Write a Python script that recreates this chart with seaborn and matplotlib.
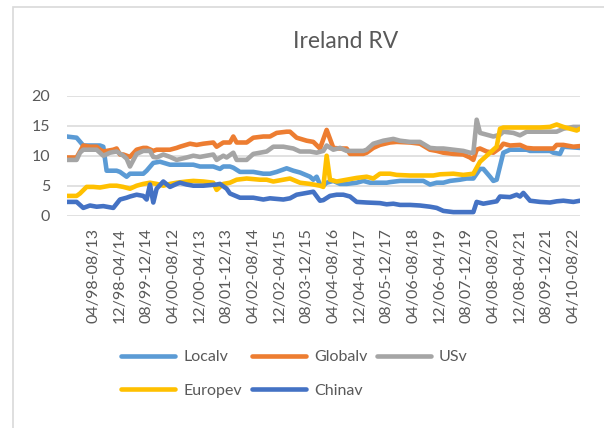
import matplotlib
matplotlib.use("Agg")
import matplotlib.pyplot as plt
import matplotlib.patches as patches
import pandas as pd
import seaborn as sns

# Month index 0 = first window, tick labels every 8 months starting at index 8
tick_months = list(range(8, 153, 8))
tick_labels = ['04/98-08/13', '12/98-04/14', '08/99-12/14', '04/00-08/12',
               '12/00-04/13', '08/01-12/13', '04/02-08/14', '12/02-04/15',
               '08/03-12/15', '04/04-08/16', '12/04-04/17', '08/05-12/17',
               '04/06-08/18', '12/06-04/19', '08/07-12/19', '04/08-08/20',
               '12/08-04/21', '08/09-12/21', '04/10-08/22']

local_m = [0, 3, 5, 8, 10, 11, 12, 15, 16, 18, 19, 23, 24, 26, 28, 31, 38, 40, 44, 46,
           47, 49, 50, 52, 56, 59, 61, 63, 66, 68, 70, 73, 74, 75, 76, 77, 78, 80, 82, 84,
           87, 89, 91, 96, 97, 100, 107, 109, 111, 113, 115, 118, 120, 122, 124, 125, 127,
           128, 129, 131, 133, 138, 139, 145, 146, 148, 149, 154]
local_v = [13.2, 13.0, 11.7, 11.7, 11.7, 11.5, 7.5, 7.5, 7.3, 6.5, 7.0, 7.0, 7.5, 8.8, 9.0,
           8.5, 8.5, 8.2, 8.2, 7.8, 8.2, 8.2, 8.0, 7.3, 7.3, 7.0, 7.0, 7.3, 7.9, 7.5, 7.2,
           6.5, 6.0, 6.5, 5.2, 5.0, 5.5, 5.8, 5.3, 5.3, 5.5, 5.8, 5.5, 5.5, 5.6, 5.8, 5.8,
           5.2, 5.5, 5.5, 5.8, 6.0, 6.2, 6.2, 7.8, 7.8, 6.5, 5.8, 6.0, 10.5, 11.0, 11.0,
           10.8, 10.8, 10.5, 10.3, 11.5, 11.3]

global_m = [0, 3, 5, 7, 9, 10, 11, 14, 15, 16, 17, 18, 19, 21, 23, 24, 26, 27, 31, 33, 34,
            37, 39, 41, 44, 45, 47, 49, 50, 51, 54, 56, 59, 61, 63, 66, 67, 69, 72, 74, 76,
            78, 80, 82, 84, 85, 89, 90, 92, 94, 97, 99, 103, 106, 109, 111, 113, 116, 119,
            121, 122, 123, 124, 126, 128, 130, 131, 133, 136, 138, 140, 145, 146, 147, 149,
            152, 154]
global_v = [9.7, 9.7, 11.7, 11.5, 11.5, 11.0, 10.7, 11.0, 11.2, 10.2, 10.2, 10.0, 9.8, 11.0,
            11.3, 11.3, 10.8, 11.0, 11.0, 11.3, 11.5, 12.0, 11.8, 12.0, 12.2, 11.5, 12.2,
            12.2, 13.2, 12.2, 12.2, 13.0, 13.2, 13.2, 13.8, 14.0, 14.0, 13.0, 12.5, 12.3,
            11.2, 14.3, 11.3, 11.2, 11.2, 10.3, 10.3, 10.5, 11.3, 11.8, 12.2, 12.3, 12.2,
            12.0, 11.0, 10.8, 10.5, 10.3, 10.2, 9.7, 9.3, 11.0, 11.2, 10.7, 10.5, 11.3, 12.0,
            11.7, 11.8, 11.3, 11.2, 11.2, 11.2, 11.8, 11.8, 11.5, 11.6]

us_m = [0, 3, 4, 5, 9, 10, 11, 13, 15, 17, 18, 19, 21, 23, 25, 26, 27, 29, 31, 33, 36, 38,
        40, 42, 44, 45, 47, 48, 50, 51, 54, 56, 60, 62, 65, 68, 70, 73, 75, 77, 78, 80, 82,
        84, 89, 90, 92, 95, 98, 100, 103, 106, 109, 111, 113, 116, 119, 121, 122, 123, 124,
        126, 128, 130, 131, 134, 136, 138, 142, 147, 149, 152, 154]
us_v = [9.3, 9.3, 10.5, 11.0, 11.0, 10.5, 10.0, 10.5, 10.7, 10.0, 9.5, 8.2, 10.3, 10.8, 10.8,
        9.8, 9.7, 10.2, 9.8, 9.3, 9.7, 10.0, 9.8, 10.0, 10.2, 9.3, 10.0, 9.7, 10.5, 9.3, 9.3,
        10.3, 10.7, 11.5, 11.5, 11.2, 10.7, 10.7, 10.5, 10.8, 11.7, 11.0, 11.3, 10.8, 10.8,
        11.0, 12.0, 12.5, 12.8, 12.5, 12.3, 12.3, 11.3, 11.2, 11.2, 11.0, 10.8, 10.5, 10.5,
        16.0, 13.8, 13.5, 13.2, 13.5, 14.0, 13.8, 13.4, 14.0, 14.0, 14.0, 14.5, 14.8, 14.8]

europe_m = [0, 3, 4, 6, 8, 10, 13, 15, 17, 19, 21, 23, 25, 27, 29, 31, 33, 36, 38, 41, 44,
            45, 47, 49, 51, 54, 58, 60, 62, 65, 67, 70, 73, 76, 77, 78, 79, 81, 84, 87, 90,
            92, 94, 97, 99, 103, 107, 110, 112, 116, 119, 122, 124, 126, 127, 129, 130, 131,
            142, 145, 147, 149, 151, 153, 154]
europe_v = [3.3, 3.3, 3.7, 4.8, 4.8, 4.7, 5.0, 5.0, 4.8, 4.5, 5.0, 5.3, 5.5, 5.3, 5.0, 5.3,
            5.5, 5.7, 5.8, 5.7, 5.5, 4.3, 5.3, 5.5, 6.0, 6.2, 6.0, 6.0, 5.7, 6.0, 6.2, 5.5,
            5.3, 5.0, 4.8, 10.0, 6.0, 5.7, 6.0, 6.3, 6.5, 6.2, 7.0, 7.0, 6.8, 6.7, 6.7, 6.7,
            6.9, 7.0, 6.8, 7.0, 9.0, 10.0, 10.5, 11.5, 14.5, 14.7, 14.7, 14.8, 15.2, 14.8,
            14.5, 14.2, 14.5]

china_m = [0, 3, 5, 7, 9, 11, 14, 16, 18, 19, 21, 23, 24, 25, 26, 27, 29, 31, 33, 34, 36,
           38, 41, 45, 46, 48, 49, 52, 56, 59, 61, 65, 67, 69, 72, 74, 76, 77, 79, 81, 83,
           85, 87, 90, 94, 96, 98, 100, 103, 106, 109, 111, 113, 116, 119, 122, 123, 125,
           127, 129, 130, 133, 135, 136, 137, 139, 142, 145, 147, 149, 152, 154]
china_v = [2.3, 2.3, 1.3, 1.7, 1.5, 1.6, 1.3, 2.7, 3.0, 3.2, 3.5, 3.3, 2.7, 5.2, 2.2, 4.5,
           5.7, 4.8, 5.3, 5.5, 5.2, 5.0, 5.0, 5.2, 5.3, 4.5, 3.7, 3.0, 3.0, 2.7, 2.9, 2.7,
           2.9, 3.5, 3.8, 4.0, 2.5, 2.6, 3.3, 3.5, 3.5, 3.2, 2.3, 2.2, 2.1, 1.9, 2.0, 1.8,
           1.8, 1.7, 1.5, 1.3, 0.8, 0.6, 0.6, 0.6, 2.3, 2.0, 2.2, 2.4, 3.2, 3.1, 3.5, 3.2,
           3.8, 2.5, 2.3, 2.2, 2.4, 2.5, 2.3, 2.5]

series_names = ['Localv', 'Globalv', 'USv', 'Europev', 'Chinav']
series_colors = ['#5B9BD5', '#ED7D31', '#A5A5A5', '#FFC000', '#4472C4']
series_data = [(local_m, local_v), (global_m, global_v), (us_m, us_v),
               (europe_m, europe_v), (china_m, china_v)]

# long-form table for seaborn
frames = []
for name, (m, v) in zip(series_names, series_data):
    frames.append(pd.DataFrame({'month': m, 'value': v, 'series': name}))
df = pd.concat(frames, ignore_index=True)

sns.set_style("white")
plt.rcParams['font.family'] = ['Lato', 'DejaVu Sans']
text_color = '#595959'

fig = plt.figure(figsize=(6.04, 4.28), dpi=100)
ax = fig.add_axes([0.1103, 0.496, 0.850, 0.2804])

sns.lineplot(data=df, x='month', y='value', hue='series', hue_order=series_names,
             palette=series_colors, linewidth=3.3, estimator=None, ax=ax)

ax.set_xlim(0, 154)
ax.set_ylim(0, 20)
ax.set_yticks([0, 5, 10, 15, 20])
ax.set_xticks(tick_months)
ax.set_xticklabels(tick_labels, rotation=90)
ax.set_xlabel('')
ax.set_ylabel('')
ax.grid(axis='y', color='#D9D9D9', linewidth=1.1)
ax.set_axisbelow(True)
for s in ax.spines.values():
    s.set_visible(False)
ax.tick_params(axis='both', length=0, labelsize=11.5, colors=text_color)
ax.tick_params(axis='y', pad=12)
ax.tick_params(axis='x', pad=9)

fig.text(346.0 / 604, 1 - 42.0 / 428, 'Ireland RV', fontsize=16.5, color=text_color,
         ha='center', va='center')

# legend: row-major order L, G, U / E, C
handles, labels = ax.get_legend_handles_labels()
lookup = dict(zip(labels, handles))
order = ['Localv', 'Europev', 'Globalv', 'Chinav', 'USv']
leg = ax.legend([lookup[k] for k in order], order, ncol=3, frameon=False,
                loc='upper left', bbox_to_anchor=(121.0 / 604, 1 - 350.0 / 428),
                bbox_transform=fig.transFigure, borderpad=0, borderaxespad=0,
                handlelength=3.4, handletextpad=0.5, columnspacing=0.6,
                labelspacing=1.2, fontsize=11.5)
for t in leg.get_texts():
    t.set_color(text_color)
for h in leg.legend_handles:
    h.set_linewidth(3.3)

# chart area border like the source
fig.patches.append(patches.Rectangle((13.0 / 604, -0.1), 1.2, 1 - 7.0 / 428 + 0.1,
                                     transform=fig.transFigure, fill=False,
                                     edgecolor='#D9D9D9', linewidth=1.2))

fig.savefig('out.png', dpi=100)
plt.close(fig)
